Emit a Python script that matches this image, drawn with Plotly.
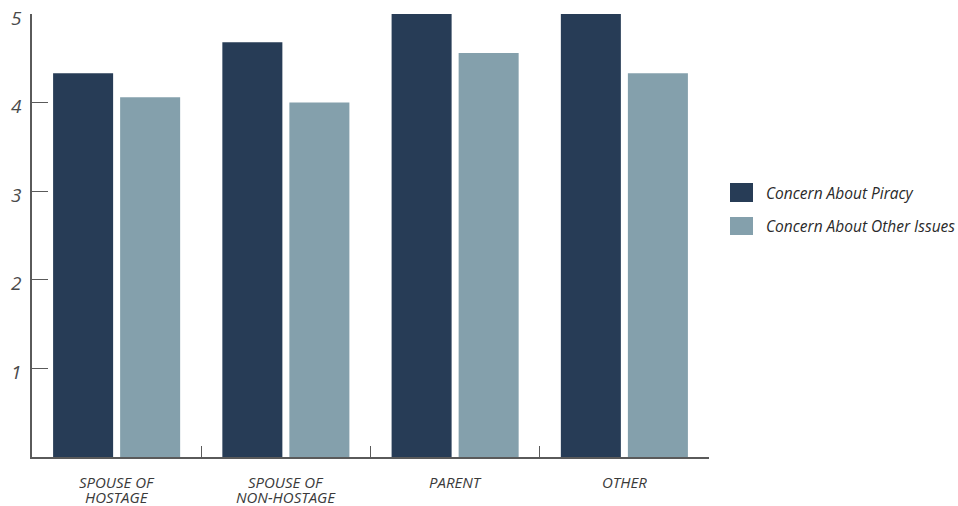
import plotly.graph_objects as go

# Mean concern scores by respondent group
groups = ["SPOUSE OF<br>HOSTAGE", "SPOUSE OF<br>NON-HOSTAGE", "PARENT", "OTHER"]
piracy = [4.33, 4.68, 5.0, 5.0]
other_issues = [4.06, 4.0, 4.56, 4.33]
series_names = ["Concern About Piracy", "Concern About Other Issues"]
series_colors = ["#273c56", "#84a0ac"]
y_ticks = [1, 2, 3, 4, 5]

FONT = "Open Sans"
AXIS_COLOR = "#5a5a5a"
PLOT_L, PLOT_R, PLOT_T, PLOT_B = 32, 709, 14, 457

fig = go.Figure()
for name, vals, color in zip(series_names, [piracy, other_issues], series_colors):
    fig.add_trace(go.Bar(
        x=groups, y=vals, name=name,
        marker=dict(color=color, line=dict(width=0)),
        showlegend=False,
    ))

fig.update_layout(
    width=958, height=506,
    margin=dict(l=PLOT_L, r=958 - PLOT_R, t=PLOT_T, b=506 - PLOT_B),
    paper_bgcolor="white", plot_bgcolor="white",
    barmode="group", bargap=0.208, bargroupgap=0.1045,
    font=dict(family=FONT, color="#3a3a3a"),
    xaxis=dict(
        showline=True, linecolor=AXIS_COLOR, linewidth=1.5,
        ticks="inside", ticklen=11, tickwidth=1.2, tickcolor=AXIS_COLOR,
        tickson="boundaries", showgrid=False, showticklabels=False,
        automargin=False,
    ),
    yaxis=dict(
        range=[0, 5], tickvals=y_ticks, showgrid=False, zeroline=False,
        showline=True, linecolor=AXIS_COLOR, linewidth=1.5,
        ticks="inside", ticklen=16, tickwidth=1.2, tickcolor=AXIS_COLOR,
        tickfont=dict(family=FONT, size=19, style="italic", color="#4a4a4a"),
        ticklabelstandoff=5, ticklabelshift=4, ticklabeloverflow="allow",
        automargin=False,
    ),
)

# Category labels, one line per annotation for tight line spacing
for g in groups:
    for i, line in enumerate(g.split("<br>")):
        fig.add_annotation(
            x=g, xref="x", y=0, yref="paper",
            yshift=-(24 + 15 * i), yanchor="middle", xanchor="center",
            showarrow=False, text=line, height=15,
            font=dict(family=FONT, size=15, style="italic", color="#3a3a3a"),
        )

# Legend drawn as swatches and labels to the right of the plot
pw, ph = PLOT_R - PLOT_L, PLOT_B - PLOT_T
legend_x0, legend_w = 730, 23
legend_rows = [(183, 202), (217, 235)]
for (y0, y1), name, color in zip(legend_rows, series_names, series_colors):
    fig.add_shape(
        type="rect", xref="paper", yref="paper",
        x0=(legend_x0 - PLOT_L) / pw, x1=(legend_x0 + legend_w - PLOT_L) / pw,
        y0=(PLOT_B - y1) / ph, y1=(PLOT_B - y0) / ph,
        fillcolor=color, line=dict(width=0),
    )
    fig.add_annotation(
        xref="paper", yref="paper",
        x=(764 - PLOT_L) / pw, y=(PLOT_B - (y0 + y1) / 2) / ph,
        xanchor="left", yanchor="middle", showarrow=False,
        text=name, font=dict(family=FONT, size=15.5, style="italic", color="#2a2a2a"),
    )

fig.write_html("out.html")
